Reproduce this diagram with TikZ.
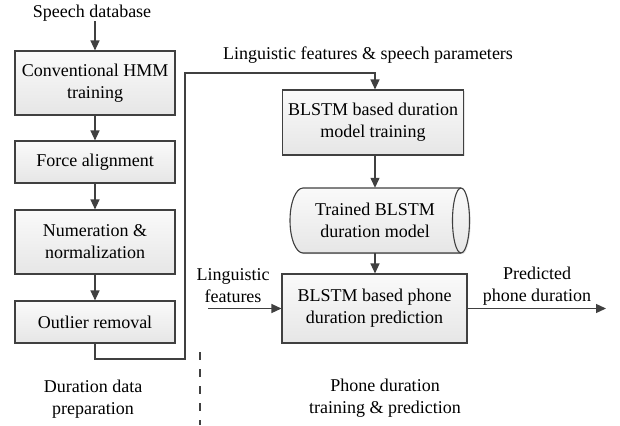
\documentclass[tikz,border=0pt]{standalone}
\usepackage{fontspec}
\setmainfont{Liberation Serif}
\newfontfamily\timesfont{Liberation Serif}
\usetikzlibrary{arrows.meta,shadows}
\definecolor{lncol}{HTML}{404040}
\definecolor{boxtop}{HTML}{FAFAFA}
\definecolor{boxbot}{HTML}{E6E6E6}
\tikzset{
  txt/.style={font=\timesfont\fontsize{18}{22}\selectfont, align=center, inner sep=0pt, text=black},
  procbox/.style={txt, draw=lncol, line width=1.1pt, top color=boxtop, bottom color=boxbot,
    drop shadow={shadow xshift=1.2pt, shadow yshift=-1.2pt, fill=black!20, opacity=0.5}},
  conn/.style={draw=lncol, line width=1.3pt, -{Triangle[length=10pt,width=9pt]}},
  plainline/.style={draw=lncol, line width=1.3pt},
}
\begin{document}
\begin{tikzpicture}[x=1pt,y=-1pt]
\useasboundingbox (0,0) rectangle (620,425);
% left column
\node[txt] (sdb) at (92,13) {Speech database};
\node[procbox, minimum width=160pt, minimum height=64pt] (b1) at (95,83) {Conventional HMM\\training};
\node[procbox, minimum width=160pt, minimum height=42pt] (b2) at (95,162) {Force alignment};
\node[procbox, minimum width=160pt, minimum height=64pt] (b3) at (95,242) {Numeration \&\\normalization};
\node[procbox, minimum width=160pt, minimum height=42pt] (b4) at (95,322) {Outlier removal};
\draw[conn] (sdb.south -| b1.north) -- (b1.north);
\draw[conn] (b1) -- (b2);
\draw[conn] (b2) -- (b3);
\draw[conn] (b3) -- (b4);
% right column
\node[procbox, minimum width=181pt, minimum height=65pt] (t1) at (373,122.5) {BLSTM based duration\\model training};
% cylinder
\fill[top color=boxtop, bottom color=boxbot, drop shadow={shadow xshift=1.2pt, shadow yshift=-1.2pt, fill=black!20, opacity=0.5}]
  (303,188) arc[start angle=90, end angle=270, x radius=13pt, y radius=32.5pt]
  -- (461,253) arc[start angle=270, end angle=450, x radius=8.5pt, y radius=32.5pt] -- cycle;
\draw[draw=lncol, line width=1.1pt]
  (303,188) arc[start angle=90, end angle=270, x radius=13pt, y radius=32.5pt]
  -- (461,253) arc[start angle=270, end angle=450, x radius=8.5pt, y radius=32.5pt] -- cycle;
\draw[draw=lncol, line width=1.1pt] (461,188) arc[start angle=90, end angle=270, x radius=8.5pt, y radius=32.5pt];
\node[txt, minimum width=181pt, minimum height=65pt] (cyl) at (375,220.5) {Trained BLSTM\\duration model};
\node[procbox, minimum width=185pt, minimum height=69pt] (p) at (374.5,308.5) {BLSTM based phone\\duration prediction};
\draw[conn] (t1.south -| cyl.north) -- (cyl.north);
\draw[conn] (cyl.south) -- (cyl.south |- p.north);
% connector from left to right
\coordinate (c1) at (95,359);
\coordinate (c2) at (185,359);
\coordinate (c3) at (185,73);
\coordinate (c4) at (375,73);
\draw[conn] (b4.south) -- (c1) -- (c2) -- (c3) -- (c4) -- (c4 |- t1.north);
\node[txt] (lfsp) at (368,55) {Linguistic features \& speech parameters};
% input/output
\coordinate (in) at (208,308.5);
\coordinate (out) at (606,308.5);
\draw[conn] (in) -- (p.west);
\draw[conn] (p.east) -- (out);
\node[txt] (lf) at (233,286) {Linguistic\\features};
\node[txt] (pd) at (537,286) {Predicted\\phone duration};
% section labels
\coordinate (d1) at (200,352);
\coordinate (d2) at (200,425);
\draw[plainline, line width=1.1pt, dash pattern=on 8pt off 9pt] (d1) -- (d2);
\node[txt] (ddp) at (93,399) {Duration data\\preparation};
\node[txt] (pdtp) at (385,398) {Phone duration\\training \& prediction};
\end{tikzpicture}
\end{document}
